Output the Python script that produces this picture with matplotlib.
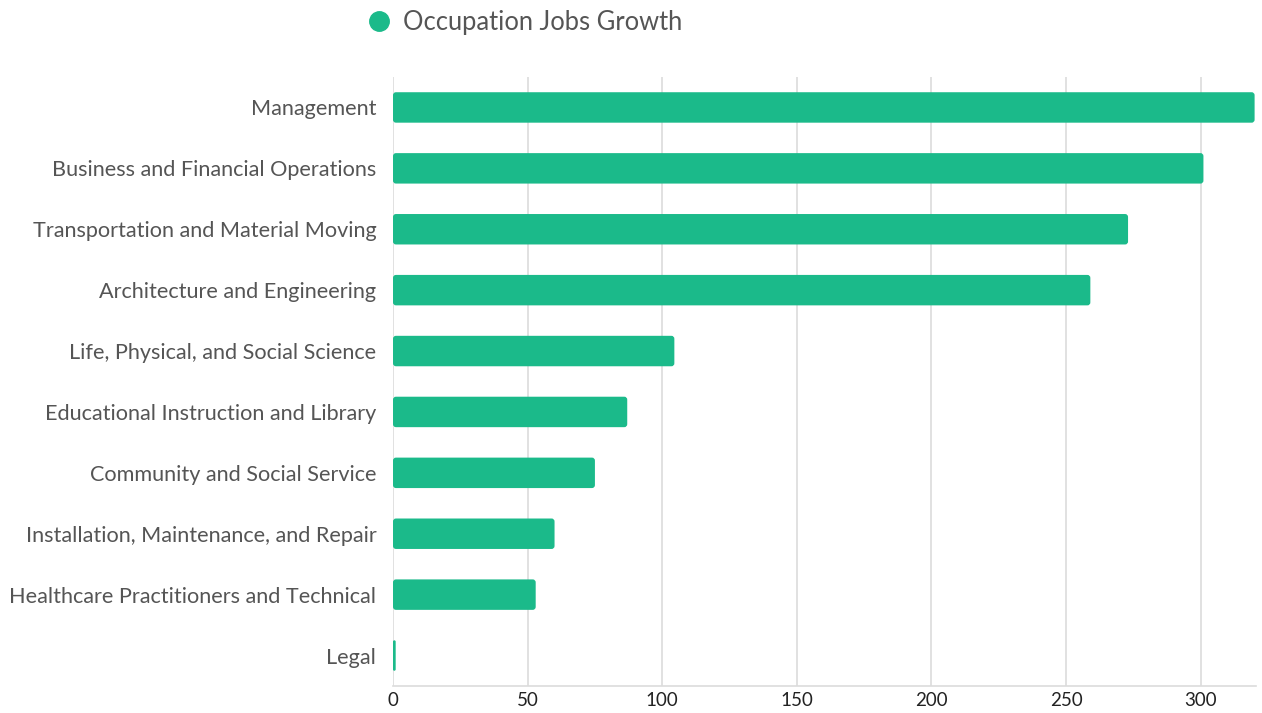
import matplotlib.pyplot as plt
from matplotlib.patches import FancyBboxPatch
from matplotlib.lines import Line2D

plt.rcParams['font.family'] = ['Lato', 'DejaVu Sans']

# data
occupations = [
    'Management',
    'Business and Financial Operations',
    'Transportation and Material Moving',
    'Architecture and Engineering',
    'Life, Physical, and Social Science',
    'Educational Instruction and Library',
    'Community and Social Service',
    'Installation, Maintenance, and Repair',
    'Healthcare Practitioners and Technical',
    'Legal',
]
growth = [320, 301, 273, 259, 104.5, 87, 75, 60, 53, 1]
xticks = [0, 50, 100, 150, 200, 250, 300]

bar_color = '#1bba8a'
text_color = '#555555'
grid_color = '#dcdcdc'

fig = plt.figure(figsize=(12.62, 7.13), dpi=100)
ax = fig.add_axes([0.3114, 0.0379, 0.6838, 0.8541])

ypos = list(range(len(occupations)))
bars = ax.barh(ypos, growth, height=0.5, color=bar_color, zorder=3)

# swap the plain rectangles for slightly rounded ones
for b in bars:
    x, y, w, h = b.get_x(), b.get_y(), b.get_width(), b.get_height()
    r = min(1.1, w / 2)
    p = FancyBboxPatch((x, y), w, h, boxstyle=f'round,pad=0,rounding_size={r}',
                       mutation_aspect=0.045, facecolor=bar_color,
                       edgecolor='none', zorder=3)
    ax.add_patch(p)
    b.set_visible(False)

ax.set_xlim(0, 320.5)
ax.set_ylim(len(occupations) - 0.5, -0.5)
ax.set_yticks(ypos)
ax.set_yticklabels(occupations)
ax.set_xticks(xticks)

ax.grid(axis='x', color=grid_color, linewidth=1.2, zorder=0)
ax.tick_params(axis='y', length=0, pad=12, labelsize=15.6, labelcolor=text_color)
ax.tick_params(axis='x', length=0, pad=4, labelsize=13.5, labelcolor='#222222')
for s in ['top', 'right', 'left']:
    ax.spines[s].set_visible(False)
ax.spines['bottom'].set_color(grid_color)
ax.spines['bottom'].set_linewidth(1.2)

handle = Line2D([], [], marker='o', linestyle='none', markersize=14,
                markerfacecolor=bar_color, markeredgecolor=bar_color)
fig.legend([handle], ['Occupation Jobs Growth'], loc='center left',
           bbox_to_anchor=(0.272, 0.969), frameon=False, fontsize=18.4,
           labelcolor=text_color, handletextpad=0.45, handlelength=1.0)

fig.savefig('out.png', dpi=100)
